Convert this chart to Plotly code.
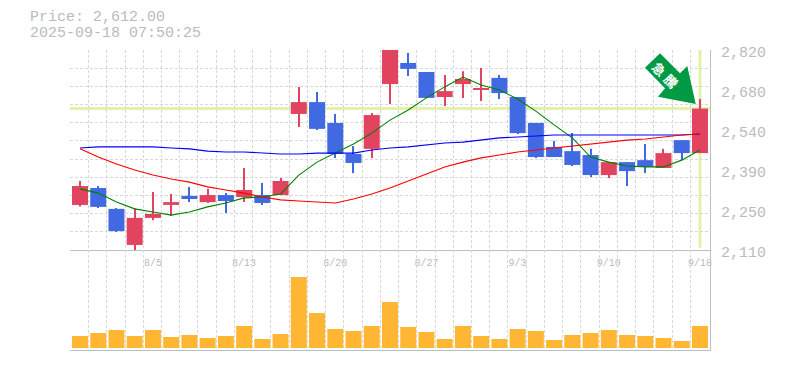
import plotly.graph_objects as go

dates = ["7/30","7/31","8/1","8/4","8/5","8/6","8/7","8/8","8/12","8/13","8/14","8/15","8/18","8/19","8/20",
         "8/21","8/22","8/25","8/26","8/27","8/28","8/29","9/1","9/2","9/3","9/4","9/5","9/8","9/9","9/10",
         "9/11","9/12","9/16","9/17","9/18"]
opens = [2270,2330,2256,2128,2224,2270,2302,2280,2305,2298,2305,2305,2593,2635,2561,2451,2469,2699,2774,2742,
         2653,2699,2678,2721,2653,2561,2476,2461,2447,2376,2422,2429,2401,2500,2454]
closes = [2337,2263,2177,2224,2238,2280,2291,2305,2284,2323,2277,2355,2635,2540,2451,2419,2589,2830,2753,2650,
          2674,2717,2685,2667,2525,2440,2440,2412,2376,2422,2390,2405,2454,2454,2612]
highs = [2355,2337,2259,2258,2316,2309,2334,2327,2312,2401,2348,2366,2689,2671,2593,2479,2596,2850,2809,2742,
         2731,2745,2756,2731,2653,2561,2497,2525,2469,2422,2422,2486,2469,2500,2646]
lows = [2264,2259,2174,2108,2216,2231,2280,2277,2241,2280,2270,2305,2547,2536,2437,2383,2437,2628,2728,2650,
        2621,2650,2639,2646,2522,2437,2440,2408,2369,2366,2337,2383,2401,2429,2454]
ma_short = [2327,2312,2280,2256,2245,2234,2245,2263,2277,2295,2298,2309,2376,2422,2454,2486,2525,2571,2607,2650,
            2689,2724,2696,2678,2646,2603,2554,2508,2440,2422,2408,2405,2405,2429,2465]
ma_mid = [2472,2476,2476,2476,2476,2472,2469,2461,2458,2458,2454,2451,2451,2454,2454,2454,2465,2472,2476,2483,
          2490,2493,2500,2508,2511,2515,2518,2518,2518,2518,2518,2518,2518,2518,2522]
ma_long = [2469,2440,2415,2394,2376,2362,2351,2334,2323,2312,2298,2288,2284,2280,2277,2291,2309,2330,2355,2380,
           2405,2422,2437,2447,2458,2465,2472,2479,2486,2493,2500,2504,2511,2518,2522]
volume = [12,15,18,12,18,11,13,10,12,22,9,14,71,35,19,17,22,46,21,16,9,22,12,9,19,17,8,13,15,18,13,12,10,7,22]
date_labels = ["8/5","8/13","8/20","8/27","9/3","9/10","9/18"]
price_ticks = [2820,2678,2536,2394,2252,2110]
price_labels = ["2,820","2,680","2,540","2,390","2,250","2,110"]
last_price = 2612.00
title_lines = ["Price: 2,612.00", "2025-09-18 07:50:25"]
arrow_text = "急騰"

idx = list(range(len(dates)))
MONO = "Liberation Mono, DejaVu Sans Mono, monospace"
TXT = "#bbbbbb"; GRID = "#d8d8d8"; AXIS = "#bfbfbf"
UP = "#E2435F"; DOWN = "#4169E1"; HILITE = "#E2F2A8"
colors = [UP if c >= o else DOWN for o, c in zip(opens, closes)]

fig = go.Figure()
fig.add_trace(go.Bar(x=idx, y=volume, width=0.877, marker=dict(color="#FFB733", line_width=0),
                     xaxis="x2", yaxis="y2", showlegend=False))
fig.add_trace(go.Bar(x=idx, base=lows, y=[h - l for h, l in zip(highs, lows)], width=0.06,
                     marker=dict(color=colors, line_width=0), xaxis="x", yaxis="y", showlegend=False))
fig.add_trace(go.Bar(x=idx, base=[min(o, c) for o, c in zip(opens, closes)],
                     y=[abs(o - c) for o, c in zip(opens, closes)], width=0.877,
                     marker=dict(color=colors, line_width=0), xaxis="x", yaxis="y", showlegend=False))
for vals, col in ((ma_short, "#008000"), (ma_mid, "#0000FF"), (ma_long, "#FF0000")):
    fig.add_trace(go.Scatter(x=idx, y=vals, mode="lines", line=dict(color=col, width=1.1),
                             xaxis="x", yaxis="y", showlegend=False))

pmin, pmax = price_ticks[-1], price_ticks[0]
h_grid = [pmin + (pmax - pmin) * k / 11 for k in range(12)]
v_grid = [i - 0.53 for i in idx]
label_pos = [dates.index(d) for d in date_labels]
xr = [-0.548, 34.55]

common_x = dict(range=xr, zeroline=False, showgrid=False, ticks="", fixedrange=True,
                minor=dict(tickmode="array", tickvals=v_grid, showgrid=True, gridcolor=GRID, griddash="3px,2px",
                           gridwidth=1, ticks=""))
fig.update_layout(
    width=785, height=370, margin=dict(l=70, r=75, t=50, b=20, pad=0), autosize=False,
    paper_bgcolor="white", plot_bgcolor="white", showlegend=False, barmode="overlay",
    font=dict(family=MONO, color=TXT, size=15),
    xaxis=dict(common_x, domain=[0, 1], anchor="y", tickmode="array", tickvals=label_pos, ticktext=date_labels,
               tickfont=dict(family=MONO, size=10, color=TXT), ticklabelstandoff=3,
               showline=True, linecolor=AXIS, linewidth=1),
    yaxis=dict(domain=[1/3, 1], range=[pmin, pmax], anchor="x", side="right", tickmode="array",
               tickvals=h_grid, showticklabels=False, ticks="", showgrid=True, gridcolor=GRID,
               griddash="3px,2px", gridwidth=1, zeroline=False, showline=True, linecolor=AXIS, linewidth=1,
               fixedrange=True),
    xaxis2=dict(common_x, domain=[0, 1], anchor="y2", showticklabels=False, showline=True, linecolor=AXIS,
                linewidth=1),
    yaxis2=dict(domain=[0, 1/3], range=[-2, 98], anchor="x2", side="right", showgrid=False, showticklabels=False,
                ticks="", zeroline=False, showline=True, linecolor=AXIS, linewidth=1, fixedrange=True),
)

fig.add_shape(type="line", xref="x", yref="y", x0=xr[0], x1=xr[1], y0=last_price, y1=last_price,
              line=dict(color=HILITE, width=3), layer="below")
fig.add_shape(type="line", xref="x", yref="y", x0=idx[-1], x1=idx[-1], y0=pmin + 8, y1=pmax,
              line=dict(color=HILITE, width=3), layer="below")

# decorative arrow, placed in page pixels
pts = [(660, 53.3), (680, 73.3), (687.3, 66), (695.7, 104), (658, 96.7), (665, 88.3), (645, 67.7)]
path = "M " + " L ".join(f"{(x-70)/640:.4f},{(350-y)/300:.4f}" for x, y in pts) + " Z"
fig.add_shape(type="path", xref="paper", yref="paper", path=path, fillcolor="#009944", line_width=0, layer="above")
for ch, (px, py) in zip(arrow_text, ((659, 68.5), (671, 80.5))):
    fig.add_annotation(xref="paper", yref="paper", x=(px-70)/640, y=(350-py)/300, text=f"<b>{ch}</b>", showarrow=False,
                       xanchor="center", yanchor="middle", textangle=45, borderpad=0,
                       font=dict(family="Noto Sans CJK JP", size=13, color="white"))

for v, t in zip(price_ticks, price_labels):
    fig.add_annotation(xref="paper", yref="y", x=1, y=v, yshift=-3, xshift=10, xanchor="left", yanchor="middle",
                       text=t, showarrow=False, font=dict(family=MONO, size=15, color=TXT), borderpad=0)
for line, py in zip(title_lines, (18, 33)):
    fig.add_annotation(xref="paper", yref="paper", x=(29-70)/640, y=(350-py)/300, xanchor="left", yanchor="middle",
                       text=line, showarrow=False, font=dict(family=MONO, size=15, color=TXT), borderpad=0)

fig.write_html("out.html", post_script="document.body.style.margin='0';", config={"displayModeBar": False})
